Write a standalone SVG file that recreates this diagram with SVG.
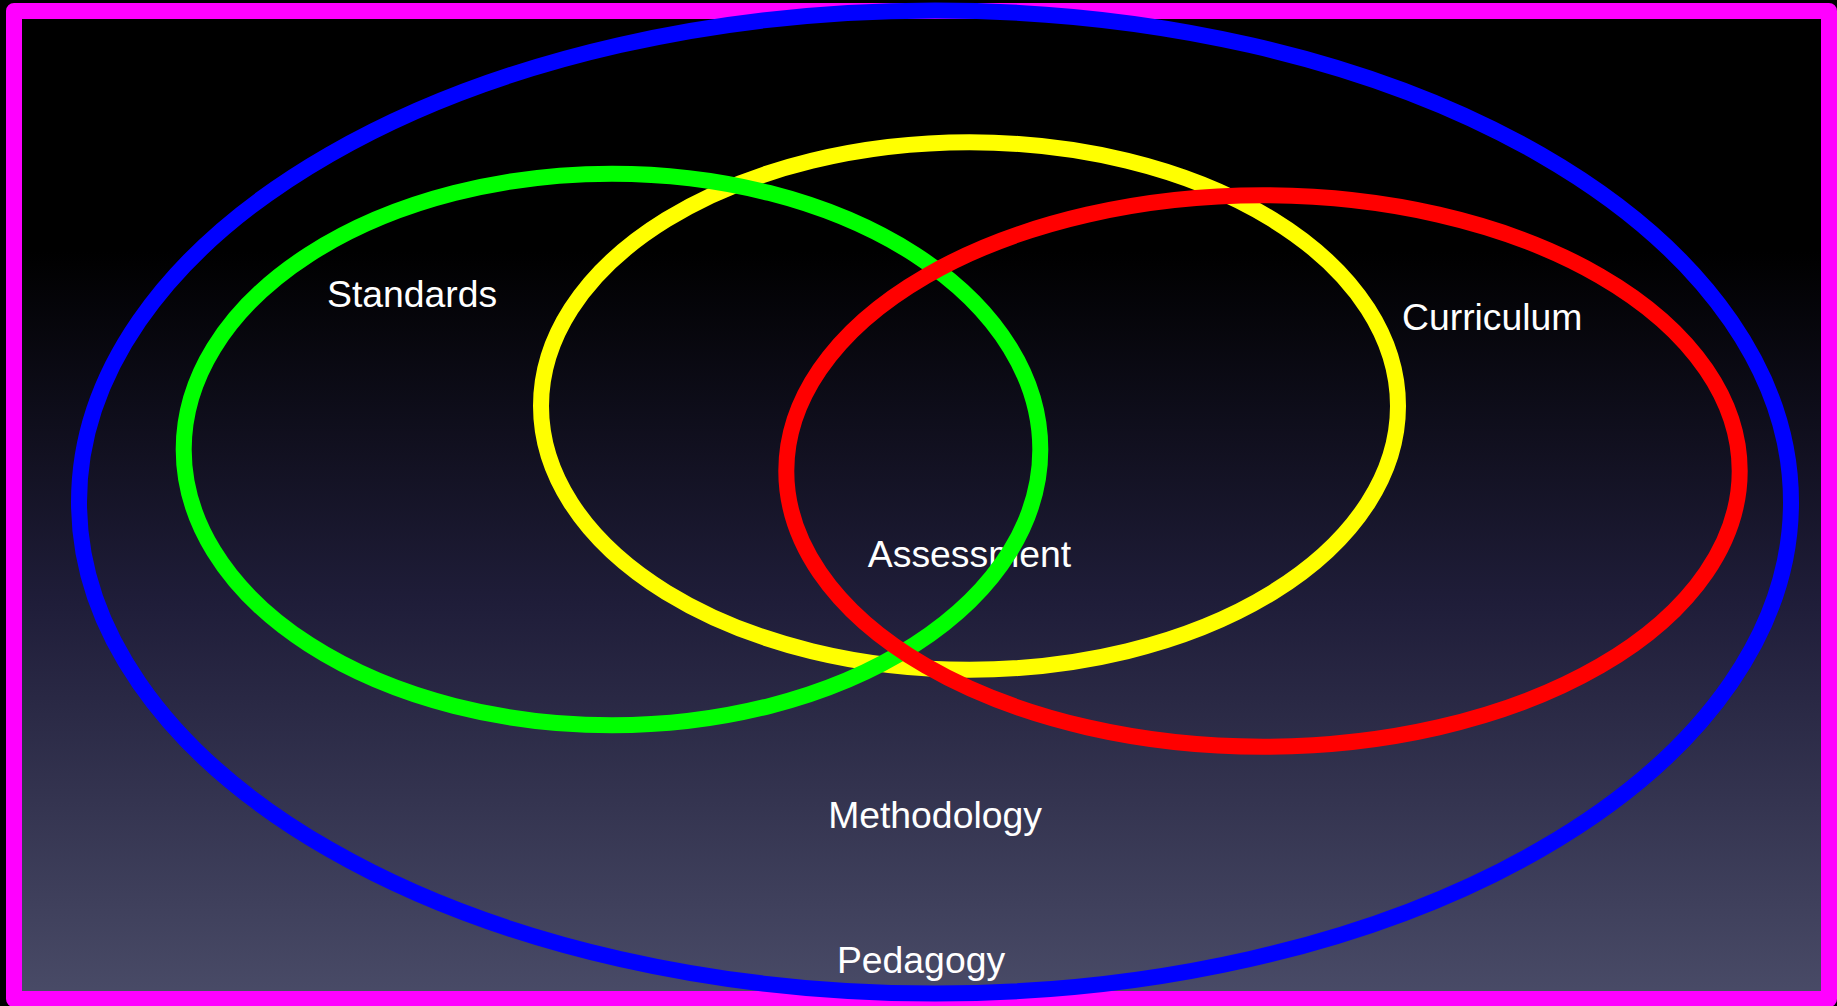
<svg xmlns="http://www.w3.org/2000/svg" width="1837" height="1006" viewBox="0 0 1837 1006">
  <defs>
    <linearGradient id="bg" gradientUnits="userSpaceOnUse" x1="0" y1="0" x2="0" y2="1006">
      <stop offset="0" stop-color="#000000"/>
      <stop offset="0.25" stop-color="#000000"/>
      <stop offset="0.6" stop-color="#1f1d39"/>
      <stop offset="1" stop-color="#4a4c68"/>
    </linearGradient>
    <style>
      .ring { fill: none; stroke-width: 16; }
      .label { font-family: "Liberation Sans", Arial, sans-serif; font-size: 37.33px; fill: #ffffff; }
      .mid { text-anchor: middle; }
    </style>
  </defs>
  <rect x="0" y="0" width="1837" height="1006" fill="#000000"/>
  <g id="pedagogy">
    <rect x="14" y="11" width="1815" height="988" fill="url(#bg)" stroke="#ff00ff" stroke-width="16" stroke-linejoin="round"/>
    <text class="label mid" x="921" y="973">Pedagogy</text>
  </g>
  <g id="methodology">
    <ellipse class="ring" cx="935" cy="502" rx="856" ry="491.5" stroke="#0000ff"/>
    <text class="label mid" x="935" y="828">Methodology</text>
  </g>
  <g id="assessment">
    <text class="label mid" x="969.5" y="567">Assessment</text>
    <ellipse class="ring" cx="969.5" cy="406" rx="428.5" ry="263.7" stroke="#ffff00"/>
  </g>
  <g id="standards">
    <ellipse class="ring" cx="612" cy="449.5" rx="428.3" ry="275.8" stroke="#00ff00"/>
    <text class="label" x="327" y="307">Standards</text>
  </g>
  <g id="curriculum">
    <ellipse class="ring" cx="1263" cy="471" rx="476.7" ry="275.7" stroke="#ff0000"/>
    <text class="label" x="1402" y="330">Curriculum</text>
  </g>
  <g id="connectors"/>
</svg>
